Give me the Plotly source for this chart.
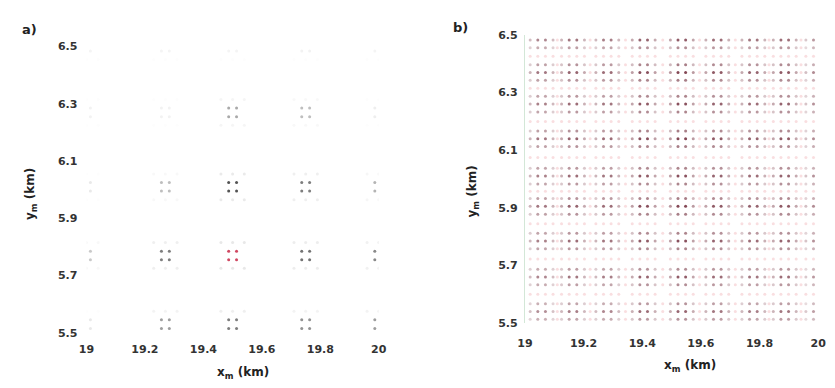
import plotly.graph_objects as go

# ---------------- Panel a) data: sparse clusters ----------------
a_cluster_x = [19.0, 19.27, 19.5, 19.75, 20.0]
a_cluster_y = [5.53, 5.77, 6.01, 6.27, 6.5]
# darkness of each cluster (rows follow a_cluster_y, cols follow a_cluster_x)
a_intensity = [
    [0.10, 0.45, 0.60, 0.50, 0.45],   # y=5.53
    [0.25, 0.60, 0.85, 0.65, 0.55],   # y=5.77
    [0.10, 0.30, 0.80, 0.60, 0.35],   # y=6.01
    [0.06, 0.06, 0.40, 0.30, 0.08],   # y=6.27
    [0.05, 0.05, 0.05, 0.06, 0.05],   # y=6.50
]
a_red_cluster = (1, 2)  # (row, col) of the red cluster
a_dot_dx = [-0.0135, 0.0135]
a_dot_dy = [-0.015, 0.015]
a_halo_dx = [-0.04, 0.0, 0.04]
a_halo_dy = [-0.045, 0.045]

# ---------------- Panel b) data: dense grid ----------------
b_group_x = [19.057, 19.164, 19.281, 19.405, 19.535, 19.656, 19.779, 19.886, 19.997]
b_group_y = [5.54, 5.66, 5.785, 5.905, 6.01, 6.14, 6.26, 6.37, 6.483]
b_col_dx = [-0.039, -0.013, 0.013, 0.039]
b_col_w = [0.55, 1.0, 1.0, 0.55]
b_row_dy = [-0.027, 0.0, 0.027]
b_row_w = [0.7, 1.0, 0.7]
b_group_strength_x = [0.7, 0.8, 0.75, 0.9, 0.95, 0.85, 0.8, 0.85, 0.6]
b_group_strength_y = [0.75, 0.8, 0.85, 0.9, 0.85, 0.9, 0.85, 0.9, 0.8]

x_ticks = [19, 19.2, 19.4, 19.6, 19.8, 20]
x_tick_text = ["19", "19.2", "19.4", "19.6", "19.8", "20"]
y_ticks = [5.5, 5.7, 5.9, 6.1, 6.3, 6.5]
y_tick_text = ["5.5", "5.7", "5.9", "6.1", "6.3", "6.5"]

fig = go.Figure()

# ---- panel a traces ----
ax, ay, acol = [], [], []
hx, hy, hcol = [], [], []
for r, yc in enumerate(a_cluster_y):
    for c, xc in enumerate(a_cluster_x):
        s = a_intensity[r][c]
        red = (r, c) == a_red_cluster
        for dx in a_dot_dx:
            for dy in a_dot_dy:
                ax.append(xc + dx)
                ay.append(yc + dy)
                if red:
                    acol.append("rgba(200,40,70,%.2f)" % s)
                else:
                    acol.append("rgba(40,40,40,%.2f)" % s)
        for dx in a_halo_dx:
            for dy in a_halo_dy:
                hx.append(xc + dx)
                hy.append(yc + dy)
                hcol.append("rgba(80,80,80,%.2f)" % (s * 0.15))

fig.add_trace(go.Scatter(x=hx, y=hy, mode="markers", xaxis="x", yaxis="y",
                         marker=dict(size=3, color=hcol), showlegend=False, hoverinfo="skip"))
fig.add_trace(go.Scatter(x=ax, y=ay, mode="markers", xaxis="x", yaxis="y",
                         marker=dict(size=3, color=acol), showlegend=False))

# ---- panel b traces ----
bx, by, bcol = [], [], []
fx, fy = [], []
for gi, gx in enumerate(b_group_x):
    for gj, gy in enumerate(b_group_y):
        for ci, dx in enumerate(b_col_dx):
            for ri, dy in enumerate(b_row_dy):
                s = b_col_w[ci] * b_row_w[ri] * b_group_strength_x[gi] * b_group_strength_y[gj]
                bx.append(gx + dx)
                by.append(gy + dy)
                bcol.append("rgba(110,40,55,%.2f)" % min(1.0, s))
# faint pink dots between groups
gap_x = [(b_group_x[i] + b_group_x[i + 1]) / 2 for i in range(len(b_group_x) - 1)]
gap_y = [(b_group_y[i] + b_group_y[i + 1]) / 2 for i in range(len(b_group_y) - 1)]
for gx in gap_x:
    for gy in b_group_y:
        for dy in b_row_dy:
            fx.append(gx); fy.append(gy + dy)
for gy in gap_y:
    for gx in b_group_x:
        for dx in b_col_dx:
            fx.append(gx + dx); fy.append(gy)

fig.add_trace(go.Scatter(x=fx, y=fy, mode="markers", xaxis="x2", yaxis="y2",
                         marker=dict(size=3, color="rgba(225,90,100,0.2)"),
                         showlegend=False, hoverinfo="skip"))
fig.add_trace(go.Scatter(x=bx, y=by, mode="markers", xaxis="x2", yaxis="y2",
                         marker=dict(size=3, color=bcol), showlegend=False))

W, H = 835, 388
tick_font = dict(family="DejaVu Sans", size=11, color="#333", weight="bold")

def xd(p0, p1):
    return [p0 / W, p1 / W]

def yd(top, bottom):
    return [1 - bottom / H, 1 - top / H]

common_x = dict(range=[19, 20], tickvals=x_ticks, ticktext=x_tick_text, showgrid=False,
                zeroline=False, showline=False, ticks="", tickfont=tick_font)
common_y = dict(range=[5.5, 6.5], tickvals=y_ticks, ticktext=y_tick_text, showgrid=False,
                zeroline=False, ticks="", tickfont=tick_font)

fig.update_layout(
    width=W, height=H,
    margin=dict(l=0, r=0, t=0, b=0),
    paper_bgcolor="white", plot_bgcolor="white",
    xaxis=dict(domain=xd(80, 378), anchor="y", ticklabelstandoff=8, **common_x),
    yaxis=dict(domain=yd(42, 338), anchor="x", showline=False, ticklabelstandoff=8, **common_y),
    xaxis2=dict(domain=xd(527, 826), anchor="y2", ticklabelstandoff=12, **common_x),
    yaxis2=dict(domain=yd(30, 328), anchor="x2", showline=True, linecolor="rgba(200,225,205,0.8)",
                linewidth=1, ticklabelstandoff=4, **common_y),
    annotations=[
        dict(text="<b>a)</b>", x=12 / W, y=1 - 24 / H, xref="paper", yref="paper",
             showarrow=False, xanchor="left", yanchor="middle",
             font=dict(family="DejaVu Sans", size=13, color="#222")),
        dict(text="<b>b)</b>", x=452 / W, y=1 - 22 / H, xref="paper", yref="paper",
             showarrow=False, xanchor="left", yanchor="middle",
             font=dict(family="DejaVu Sans", size=13, color="#222")),
        dict(text="<b>y<sub>m</sub> (km)</b>", x=24 / W, y=1 - 195 / H, xref="paper", yref="paper",
             showarrow=False, textangle=-90, xanchor="center", yanchor="middle",
             font=dict(family="DejaVu Sans", size=12, color="#222")),
        dict(text="<b>y<sub>m</sub> (km)</b>", x=474 / W, y=1 - 192 / H, xref="paper", yref="paper",
             showarrow=False, textangle=-90, xanchor="center", yanchor="middle",
             font=dict(family="DejaVu Sans", size=12, color="#222")),
        dict(text="<b>x<sub>m</sub> (km)</b>", x=240 / W, y=1 - 380 / H, xref="paper", yref="paper",
             showarrow=False, xanchor="center", yanchor="middle",
             font=dict(family="DejaVu Sans", size=12, color="#222")),
        dict(text="<b>x<sub>m</sub> (km)</b>", x=695 / W, y=1 - 372 / H, xref="paper", yref="paper",
             showarrow=False, xanchor="center", yanchor="middle",
             font=dict(family="DejaVu Sans", size=12, color="#222")),
    ],
)

fig.write_html("out.html")
